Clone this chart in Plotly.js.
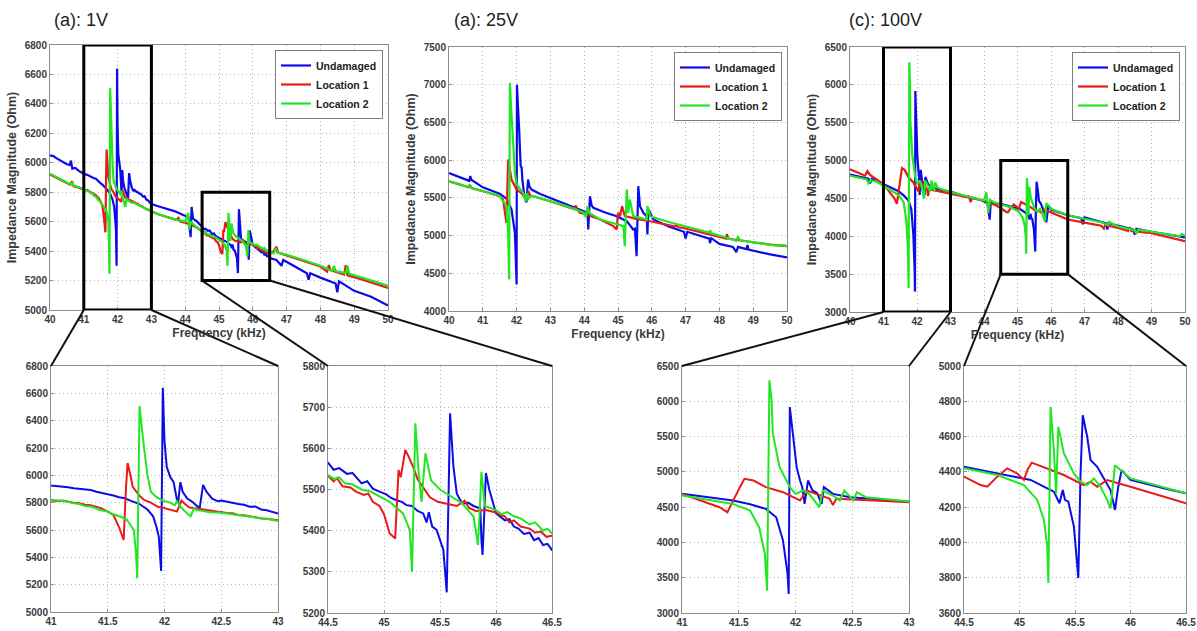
<!DOCTYPE html>
<html>
<head>
<meta charset="utf-8">
<script src="https://cdn.plot.ly/plotly-3.0.1.min.js"></script>
<style>
  html, body { margin: 0; padding: 0; background: #ffffff; }
  #chart { width: 1197px; height: 631px; }
</style>
</head>
<body>
<div id="chart"></div>
<script>
// ---------------- DATA ----------------
// each series: list of [frequency kHz, impedance Ohm]
const seriesNames = ["Undamaged", "Location 1", "Location 2"];
const panelTitles = ["(a): 1V", "(a): 25V", "(c): 100V"];
const xTitle = "Frequency (kHz)";
const yTitle = "Impedance Magnitude (Ohm)";

// 1 V excitation
const und1V = [[40.00,6050],[40.10,6045],[40.20,6030],[40.30,6015],[40.40,6000],[40.50,5990],[40.58,5985],[40.62,6015],[40.66,5960],[40.75,5965],[40.85,5945],
  [41.00,5925],[41.10,5918],[41.15,5912],[41.20,5905],[41.25,5902],[41.30,5895],[41.35,5893],[41.40,5880],[41.45,5872],[41.50,5860],[41.55,5852],[41.60,5840],[41.65,5832],[41.70,5815],[41.78,5790],[41.85,5750],[41.90,5700],[41.93,5620],[41.95,5550],[41.97,5300],
  [41.985,6640],[42.00,6250],[42.02,6060],[42.05,5990],[42.08,5950],[42.11,5820],[42.12,5800],[42.14,5950],[42.16,5880],[42.20,5830],[42.24,5810],[42.28,5780],[42.31,5760],[42.34,5930],[42.37,5880],[42.42,5830],[42.47,5810],[42.50,5815],[42.55,5805],[42.60,5800],[42.65,5790],[42.70,5785],[42.75,5770],[42.80,5772],[42.85,5750],[42.90,5745],[42.95,5730],[43.00,5720],
  [43.20,5705],[43.45,5690],[43.70,5670],[43.94,5645],[44.10,5630],[44.16,5495],[44.19,5700],[44.23,5620],[44.33,5605],
  [44.50,5565],[44.55,5548],[44.60,5552],[44.67,5538],[44.72,5540],[44.80,5515],[44.85,5520],[44.90,5502],[44.96,5495],[45.02,5488],[45.06,5480],[45.11,5474],[45.16,5470],[45.20,5462],[45.25,5460],[45.30,5448],[45.35,5442],[45.38,5420],[45.40,5445],[45.43,5410],[45.47,5402],[45.53,5353],[45.56,5250],
  [45.59,5685],[45.62,5555],[45.65,5490],[45.70,5465],[45.75,5468],[45.80,5460],[45.86,5454],[45.87,5377],[45.88,5341],[45.91,5540],[45.94,5500],[46.00,5442],[46.05,5432],[46.08,5425],[46.12,5428],[46.16,5410],[46.20,5405],[46.25,5392],[46.30,5395],[46.34,5377],[46.38,5382],[46.42,5365],[46.46,5368],[46.50,5353],
  [46.70,5340],[46.85,5300],[46.90,5340],[47.20,5300],[47.60,5250],[47.65,5205],[47.70,5250],[48.00,5220],[48.45,5180],[48.50,5120],[48.55,5195],[49.00,5130],[49.50,5090],[50.00,5030]];

const loc1_1V = [[40.00,5920],[40.20,5895],[40.40,5870],[40.60,5850],[40.65,5875],[40.70,5840],[40.85,5830],
  [41.00,5820],[41.05,5812],[41.10,5815],[41.15,5805],[41.20,5800],[41.25,5795],[41.30,5785],[41.35,5782],[41.40,5770],[41.44,5760],[41.50,5735],[41.55,5710],[41.60,5620],[41.64,5527],
  [41.66,5900],[41.675,6090],[41.70,6000],[41.72,5915],[41.78,5850],[41.82,5820],[41.88,5800],[41.94,5770],[42.00,5760],[42.05,5750],[42.11,5735],[42.15,5815],[42.18,5790],[42.22,5765],[42.30,5755],[42.37,5745],[42.42,5740],[42.45,5735],[42.50,5730],[42.55,5725],[42.60,5722],[42.65,5710],[42.70,5708],[42.75,5700],[42.80,5695],[42.85,5685],[42.90,5683],[43.00,5670],
  [43.20,5650],[43.45,5630],[43.74,5611],[43.80,5625],[43.85,5600],[44.04,5590],[44.20,5575],[44.35,5560],
  [44.50,5533],[44.55,5520],[44.58,5528],[44.63,5508],[44.70,5505],[44.75,5495],[44.82,5487],[44.86,5490],[44.90,5470],[44.96,5460],[45.00,5440],[45.05,5394],[45.10,5381],
  [45.13,5547],[45.15,5530],[45.19,5596],[45.22,5580],[45.26,5555],[45.30,5525],[45.35,5505],[45.41,5481],[45.48,5470],[45.55,5466],[45.65,5460],[45.72,5473],[45.76,5455],[45.82,5448],[45.91,5450],[46.00,5444],[46.04,5438],[46.08,5435],[46.12,5420],[46.16,5425],[46.22,5410],[46.30,5405],[46.35,5395],[46.40,5398],[46.45,5385],[46.50,5388],
  [46.60,5395],[46.70,5430],[46.75,5390],[47.00,5370],[47.50,5330],[48.00,5295],[48.20,5260],[48.25,5305],[48.30,5270],[48.70,5240],[48.75,5305],[48.80,5235],[49.20,5210],[49.60,5180],[50.00,5150]];

const loc2_1V = [[40.00,5925],[40.20,5900],[40.40,5875],[40.60,5855],[40.66,5865],[40.70,5845],[40.85,5835],
  [41.00,5820],[41.05,5815],[41.10,5810],[41.15,5806],[41.20,5795],[41.25,5790],[41.30,5775],[41.36,5770],[41.43,5746],[41.50,5735],[41.55,5715],[41.62,5695],[41.67,5673],[41.73,5600],[41.75,5420],[41.76,5246],
  [41.78,6507],[41.80,6330],[41.82,6200],[41.85,6000],[41.88,5880],[41.93,5840],[41.97,5820],[42.06,5797],[42.09,5780],[42.11,5810],[42.14,5770],[42.20,5720],[42.23,5700],[42.26,5760],[42.28,5746],[42.33,5740],[42.40,5730],[42.48,5728],[42.55,5720],[42.62,5715],[42.70,5705],[42.78,5698],[42.85,5685],[42.92,5678],[43.00,5665],
  [43.20,5650],[43.50,5630],[43.80,5610],[44.00,5600],[44.09,5660],[44.12,5545],[44.16,5600],[44.30,5570],
  [44.50,5535],[44.56,5525],[44.60,5530],[44.65,5515],[44.72,5512],[44.80,5500],[44.88,5495],[44.96,5484],[45.05,5470],[45.17,5442],[45.23,5402],[45.25,5300],
  [45.28,5661],[45.31,5540],[45.335,5470],[45.37,5588],[45.42,5522],[45.50,5500],[45.56,5490],[45.63,5478],[45.70,5466],[45.80,5434],[45.84,5365],[45.87,5543],[45.90,5460],[46.00,5450],[46.05,5440],[46.10,5445],[46.16,5435],[46.22,5430],[46.30,5415],[46.35,5420],[46.42,5400],[46.46,5405],[46.50,5393],
  [46.62,5385],[46.68,5420],[46.72,5390],[47.00,5375],[47.50,5340],[48.00,5300],[48.35,5265],[48.40,5300],[48.45,5265],[48.75,5250],[48.80,5300],[48.85,5245],[49.30,5215],[49.70,5185],[50.00,5165]];

// 25 V excitation
const und25V = [[40.00,5830],[40.30,5780],[40.60,5725],[40.63,5790],[40.66,5740],[41.00,5640],[41.50,5555],[41.70,5490],[41.85,5346],[41.95,5036],[41.99,4600],[42.00,4352],
  [42.01,7000],[42.05,6500],[42.08,6361],[42.12,5919],[42.15,5900],[42.17,5743],[42.23,5522],[42.29,5440],[42.34,5743],[42.38,5650],[42.44,5610],[42.70,5550],[42.98,5500],[43.48,5412],[43.87,5346],
  [44.10,5302],[44.12,5080],[44.17,5522],[44.22,5400],[44.27,5367],[44.60,5310],[44.96,5257],[45.26,5191],[45.36,5124],[45.45,5080],[45.50,5090],[45.55,4727],[45.60,5655],[45.65,5390],[45.75,5302],[45.85,5257],[45.87,5014],[45.90,5346],[46.05,5213],
  [46.50,5120],[46.95,5050],[47.00,4960],[47.05,5050],[47.50,4990],[47.70,4960],[47.72,4900],[47.76,4965],[48.00,4890],[48.40,4850],[48.50,4780],[48.55,4850],[48.80,4820],[48.83,4875],[48.86,4815],[49.00,4800],[49.50,4750],[50.00,4710]];

const loc1_25V = [[40.00,5720],[40.30,5680],[40.58,5640],[40.62,5670],[40.66,5630],[41.00,5590],[41.50,5522],[41.60,5478],[41.65,5302],[41.70,5170],[41.75,6008],[41.80,5850],[41.85,5743],[42.00,5610],[42.15,5560],[42.29,5478],[42.35,5590],[42.40,5530],[42.49,5522],
  [43.00,5455],[43.48,5390],[43.70,5350],[43.75,5400],[43.80,5340],[43.87,5302],[44.00,5290],[44.47,5213],[44.86,5125],[44.96,5080],[45.00,5300],[45.06,5257],[45.12,5390],[45.20,5260],[45.50,5225],[45.95,5190],
  [46.30,5160],[46.70,5120],[46.74,5140],[46.78,5110],[46.94,5100],[47.50,5040],[48.00,4990],[48.20,4960],[48.22,5020],[48.26,4960],[48.42,4948],[49.00,4910],[49.50,4880],[50.00,4860]];

const loc2_25V = [[40.00,5720],[40.30,5685],[40.55,5640],[40.60,5665],[40.65,5635],[41.00,5590],[41.50,5522],[41.70,5390],[41.75,5036],[41.78,4418],[41.80,7023],[41.85,6600],[41.90,6273],[41.95,5831],[42.00,5677],[42.10,5610],[42.20,5560],[42.27,5450],[42.30,5560],[42.35,5490],[42.42,5520],[42.49,5522],
  [43.00,5455],[43.48,5390],[43.90,5320],[44.00,5300],[44.05,5240],[44.10,5390],[44.15,5300],[44.47,5213],[44.90,5160],[45.16,5125],[45.20,4860],[45.26,5611],[45.30,5302],[45.35,5478],[45.45,5257],[45.85,5213],[45.87,5390],[45.95,5257],
  [46.50,5180],[46.94,5125],[47.50,5060],[47.70,5040],[47.73,5070],[47.76,5030],[48.00,5000],[48.42,4948],[48.50,4930],[48.55,4990],[48.60,4940],[49.00,4910],[49.50,4880],[49.80,4860],[49.85,4880],[50.00,4860]];

// 100 V excitation
const und100V = [[40.00,4815],[40.30,4790],[40.55,4760],[40.60,4700],[40.65,4760],[40.80,4730],[41.00,4688],[41.20,4640],[41.45,4594],[41.60,4540],[41.74,4475],[41.83,4357],[41.89,4026],[41.93,3553],[41.94,3270],
  [41.95,5918],[41.98,5445],[42.01,5067],[42.04,4877],[42.06,4783],[42.08,4546],[42.11,4877],[42.15,4736],[42.19,4700],[42.23,4546],[42.25,4783],[42.33,4688],[42.48,4641],[42.70,4615],[42.92,4594],
  [43.00,4590],[43.40,4530],[43.90,4480],[44.10,4440],[44.17,4220],[44.20,4450],[44.30,4430],
  [44.50,4429],[44.80,4391],[45.10,4354],[45.25,4307],[45.31,4288],[45.36,4222],[45.39,4297],[45.41,4241],[45.44,4231],[45.49,4090],[45.52,3864],[45.53,3798],[45.55,4391],[45.57,4721],[45.61,4599],[45.64,4467],[45.70,4429],[45.82,4297],[45.86,4184],[45.89,4316],[45.92,4410],[46.00,4354],[46.30,4307],[46.50,4278],
  [46.90,4240],[46.95,4160],[47.00,4250],[47.30,4210],[47.65,4170],[47.68,4090],[47.72,4175],[48.00,4140],[48.45,4090],[48.50,4020],[48.55,4100],[49.00,4060],[49.50,4020],[50.00,3985]];

const loc1_100V = [[40.00,4885],[40.30,4830],[40.45,4800],[40.52,4860],[40.60,4810],[41.00,4688],[41.24,4546],[41.33,4499],[41.40,4428],[41.45,4594],[41.51,4783],[41.55,4901],[41.63,4877],[41.74,4783],[41.89,4712],[42.04,4594],[42.10,4736],[42.18,4688],[42.30,4620],[42.33,4530],[42.36,4620],[42.60,4600],[42.92,4570],
  [43.00,4570],[43.45,4520],[43.55,4525],[43.60,4450],[43.65,4510],[44.00,4470],[44.30,4420],
  [44.50,4373],[44.65,4325],[44.71,4316],[44.80,4373],[44.89,4420],[44.98,4391],[45.04,4354],[45.07,4410],[45.11,4452],[45.25,4420],[45.40,4382],[45.58,4325],[45.64,4344],[45.70,4316],[45.79,4354],[46.00,4316],[46.50,4222],
  [47.00,4180],[47.50,4140],[47.58,4100],[47.62,4150],[48.00,4110],[48.30,4070],[48.35,4120],[48.40,4070],[49.00,4040],[49.50,3990],[50.00,3935]];

const loc2_100V = [[40.00,4800],[40.30,4775],[40.50,4750],[40.55,4700],[40.62,4740],[40.80,4720],[41.00,4665],[41.20,4610],[41.45,4546],[41.60,4452],[41.68,4215],[41.73,3837],[41.75,3317],
  [41.77,6297],[41.79,6013],[41.80,5540],[41.86,5067],[41.95,4783],[42.00,4688],[42.07,4736],[42.12,4688],[42.21,4499],[42.24,4736],[42.33,4665],[42.39,4594],[42.43,4736],[42.51,4594],[42.54,4712],[42.62,4641],[42.92,4594],
  [43.00,4585],[43.40,4530],[43.80,4490],[44.00,4470],[44.07,4580],[44.13,4310],[44.18,4480],[44.30,4450],
  [44.50,4420],[44.80,4382],[45.04,4325],[45.16,4241],[45.22,4128],[45.25,3977],[45.26,3770],[45.28,4768],[45.31,4523],[45.33,4278],[45.35,4655],[45.40,4504],[45.49,4391],[45.55,4344],[45.61,4325],[45.67,4363],[45.73,4316],[45.79,4241],[45.82,4193],[45.86,4438],[45.91,4410],[46.00,4363],[46.50,4278],
  [47.00,4230],[47.50,4185],[47.70,4150],[47.73,4190],[48.00,4130],[48.50,4080],[48.55,4030],[48.60,4090],[49.00,4060],[49.50,4030],[49.85,4000],[49.90,4030],[50.00,4005]];

// Axis ranges of the three overview panels
const xRangeMain = [40, 50];
const yRange1V = [5000, 6800];
const yRange25V = [4000, 7500];
const yRange100V = [3000, 6500];
// Zoom windows (rectangles on overview panels and ranges of the enlarged panels)
const zoom1V_a = { x: [41, 43], y: [5000, 6800] };
const zoom1V_b = { x: [44.5, 46.5], y: [5200, 5800] };
const zoom100V_a = { x: [41, 43], y: [3000, 6500] };
const zoom100V_b = { x: [44.5, 46.5], y: [3600, 5000] };
const zoom100V_b_rect = { x: [44.5, 46.5], y: [3500, 5000] };

// ---------------- STYLE / LAYOUT ----------------
const W = 1197, H = 631;
const colors = ["#0c0ce8", "#e81a1a", "#22e622"];
const FONT = "Liberation Sans, Arial, sans-serif";
// panel boxes in pixels: [left, right, top, bottom]
const BOX = {
  tl: [50, 388, 45, 310], tm: [449, 787, 47, 311], tr: [850, 1185, 47, 312],
  bl1: [51, 278, 366, 612], bl2: [328, 552, 366, 613],
  br1: [682, 909, 366, 613], br2: [964, 1186, 366, 613]
};
const dx = b => [b[0] / W, b[1] / W];
const dy = b => [1 - b[3] / H, 1 - b[2] / H];

function axisBase() {
  return {
    showline: true, mirror: true, linecolor: "#8c8c8c", linewidth: 1,
    showgrid: true, gridcolor: "#b4b4b4", griddash: "1px,3px", gridwidth: 1,
    zeroline: false, ticks: "inside", ticklen: 3, tickcolor: "#8c8c8c",
    tickfont: { family: FONT, size: 10, color: "#3a3a3a", weight: "bold" },
    automargin: false, fixedrange: true
  };
}
function xAx(box, range, dtick, anchor, title) {
  const a = Object.assign(axisBase(), { domain: dx(box), range: range, dtick: dtick, tick0: range[0], anchor: anchor });
  if (title) a.title = { text: title, font: { family: FONT, size: 12, color: "#3a3a3a", weight: "bold" }, standoff: 4 };
  return a;
}
function yAx(box, range, dtick, anchor, title) {
  const a = Object.assign(axisBase(), { domain: dy(box), range: range, dtick: dtick, tick0: range[0], anchor: anchor });
  if (title) a.title = { text: title, font: { family: FONT, size: 12.5, color: "#3a3a3a", weight: "bold" }, standoff: 5 };
  return a;
}

const layout = {
  width: W, height: H,
  margin: { l: 0, r: 0, t: 0, b: 0 },
  paper_bgcolor: "#ffffff", plot_bgcolor: "#ffffff",
  showlegend: true,
  xaxis: xAx(BOX.tl, xRangeMain, 1, "y", xTitle),
  yaxis: yAx(BOX.tl, yRange1V, 200, "x", yTitle),
  xaxis2: xAx(BOX.tm, xRangeMain, 1, "y2", xTitle),
  yaxis2: yAx(BOX.tm, yRange25V, 500, "x2", yTitle),
  xaxis3: xAx(BOX.tr, xRangeMain, 1, "y3", xTitle),
  yaxis3: yAx(BOX.tr, yRange100V, 500, "x3", yTitle),
  xaxis4: xAx(BOX.bl1, zoom1V_a.x, 0.5, "y4"),
  yaxis4: yAx(BOX.bl1, zoom1V_a.y, 200, "x4"),
  xaxis5: xAx(BOX.bl2, zoom1V_b.x, 0.5, "y5"),
  yaxis5: yAx(BOX.bl2, zoom1V_b.y, 100, "x5"),
  xaxis6: xAx(BOX.br1, zoom100V_a.x, 0.5, "y6"),
  yaxis6: yAx(BOX.br1, zoom100V_a.y, 500, "x6"),
  xaxis7: xAx(BOX.br2, zoom100V_b.x, 0.5, "y7"),
  yaxis7: yAx(BOX.br2, zoom100V_b.y, 200, "x7"),
  annotations: [],
  shapes: []
};

function legendFor(box) {
  return {
    x: (box[1] - 5) / W, y: 1 - (box[2] + 5) / H, xanchor: "right", yanchor: "top",
    xref: "paper", yref: "paper",
    bgcolor: "#ffffff", bordercolor: "#808080", borderwidth: 1,
    font: { family: FONT, size: 10.5, color: "#222222", weight: "bold" },
    tracegroupgap: 0, itemwidth: 30
  };
}
layout.legend = legendFor(BOX.tl);
layout.legend2 = legendFor(BOX.tm);
layout.legend3 = legendFor(BOX.tr);

// Panel titles
[[BOX.tl, 2], [BOX.tm, 3], [BOX.tr, -3]].forEach((p, i) => {
  layout.annotations.push({
    text: panelTitles[i], xref: "paper", yref: "paper",
    x: (p[0][0] + p[1]) / W, y: 1 - 20 / H, xanchor: "left", yanchor: "middle",
    showarrow: false, font: { family: FONT, size: 18, color: "#222222" }
  });
});

// ---------------- TRACES ----------------
const sets = {
  v1: [und1V, loc1_1V, loc2_1V],
  v25: [und25V, loc1_25V, loc2_25V],
  v100: [und100V, loc1_100V, loc2_100V]
};

const traces = [];
function addSet(set, xa, ya, legendName, show, width) {
  set.forEach((s, i) => {
    traces.push({
      type: "scatter", mode: "lines",
      x: s.map(p => p[0]), y: s.map(p => p[1]), xaxis: xa, yaxis: ya,
      name: seriesNames[i], legend: legendName, showlegend: show,
      line: { color: colors[i], width: width }, hoverinfo: "skip"
    });
  });
}
addSet(sets.v1, "x", "y", "legend", true, 2.2);
addSet(sets.v25, "x2", "y2", "legend2", true, 2.2);
addSet(sets.v100, "x3", "y3", "legend3", true, 2.2);
addSet(sets.v1, "x4", "y4", "legend", false, 2);
addSet(sets.v1, "x5", "y5", "legend", false, 2);
addSet(sets.v100, "x6", "y6", "legend", false, 2);
addSet(sets.v100, "x7", "y7", "legend", false, 2);

// ---------------- ZOOM RECTANGLES & CONNECTORS ----------------
function toPX(box, range, v) { return (box[0] + (v - range[0]) / (range[1] - range[0]) * (box[1] - box[0])) / W; }
function toPY(box, range, v) { return 1 - (box[3] - (v - range[0]) / (range[1] - range[0]) * (box[3] - box[2])) / H; }

function addZoom(srcBox, srcYRange, xa, ya, rect, dstBox) {
  layout.shapes.push({
    type: "rect", xref: xa, yref: ya, x0: rect.x[0], x1: rect.x[1], y0: rect.y[0], y1: rect.y[1],
    line: { color: "#000000", width: 3 }, fillcolor: "rgba(0,0,0,0)", layer: "above"
  });
  const yb = toPY(srcBox, srcYRange, rect.y[0]);
  const corners = [[rect.x[0], dstBox[0]], [rect.x[1], dstBox[1]]];
  corners.forEach(c => {
    layout.shapes.push({
      type: "line", xref: "paper", yref: "paper",
      x0: toPX(srcBox, xRangeMain, c[0]), y0: yb,
      x1: c[1] / W, y1: 1 - dstBox[2] / H,
      line: { color: "#111111", width: 2 }, layer: "above"
    });
  });
}
addZoom(BOX.tl, yRange1V, "x", "y", zoom1V_a, BOX.bl1);
addZoom(BOX.tl, yRange1V, "x", "y", zoom1V_b, BOX.bl2);
addZoom(BOX.tr, yRange100V, "x3", "y3", zoom100V_a, BOX.br1);
addZoom(BOX.tr, yRange100V, "x3", "y3", zoom100V_b_rect, BOX.br2);

Plotly.newPlot("chart", traces, layout, { displayModeBar: false, staticPlot: true });
</script>
</body>
</html>
